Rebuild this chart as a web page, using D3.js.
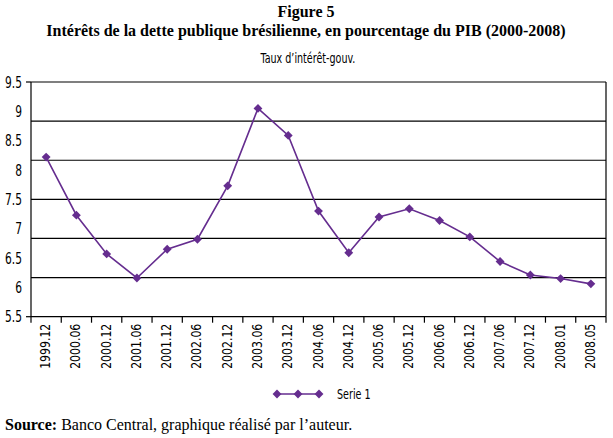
<!DOCTYPE html>
<html><head><meta charset="utf-8">
<script src="https://cdn.jsdelivr.net/npm/d3@7"></script>
<style>
body{margin:0;background:#fff;}
svg{display:block;}
.cond{font-family:"DejaVu Sans Condensed","Liberation Sans Narrow","DejaVu Sans",sans-serif;font-stretch:condensed;}
.serif{font-family:"Liberation Serif","Times New Roman",serif;}
</style></head>
<body>
<script>
const categories = ["1999.12","2000.06","2000.12","2001.06","2001.12","2002.06","2002.12","2003.06","2003.12","2004.06","2004.12","2005.06","2005.12","2006.06","2006.12","2007.06","2007.12","2008.01","2008.05"];
const serie1 = [8.22,7.23,6.57,6.16,6.65,6.82,7.73,9.05,8.59,7.30,6.59,7.20,7.34,7.14,6.86,6.44,6.21,6.15,6.06];
const yTickLabels = [5.5,6,6.5,7,7.5,8,8.5,9,9.5];
const seriesName = "Serie 1";
const figureTitle = "Figure 5";
const mainTitle = "Intérêts de la dette publique brésilienne, en pourcentage du PIB (2000-2008)";
const subTitle = "Taux d’intérêt-gouv.";

const W = 613, H = 438;
const m = {left:31, right:606, top:82, bottom:316.7};
const purple = "#652d8f";

const svg = d3.select("body").append("svg").attr("width",W).attr("height",H);

const x = d3.scaleBand().domain(categories).range([m.left,m.right]);
const y = d3.scaleLinear().domain([5.5,9.5]).range([m.bottom,m.top]);

// gridlines: six equal divisions of the value range
const gridVals = d3.range(7).map(i => 5.5 + i*(4/6));
svg.append("g").selectAll("line").data(gridVals).join("line")
  .attr("x1",m.left).attr("x2",m.right)
  .attr("y1",d=>y(d)).attr("y2",d=>y(d))
  .attr("stroke","#000").attr("stroke-width",1.2);

svg.append("line").attr("x1",m.left).attr("x2",m.left).attr("y1",m.top).attr("y2",m.bottom).attr("stroke","#000").attr("stroke-width",1.2);
svg.append("line").attr("x1",m.right).attr("x2",m.right).attr("y1",m.top).attr("y2",m.bottom).attr("stroke","#000").attr("stroke-width",1.2);
svg.append("g").selectAll("line").data([5.5,9.5]).join("line")
  .attr("x1",m.left-5).attr("x2",m.left).attr("y1",d=>y(d)).attr("y2",d=>y(d))
  .attr("stroke","#000").attr("stroke-width",1.2);

// y labels (narrowed)
svg.append("g").attr("class","cond").selectAll("text").data(yTickLabels).join("text")
  .attr("transform",d=>`translate(22,${y(d)}) scale(0.74,1)`).attr("dy","0.36em")
  .attr("text-anchor","end").attr("font-size",16).attr("fill","#000")
  .text(d=>String(d));

// x ticks at category boundaries
const bounds = categories.map(c=>x(c)).concat([m.right]);
svg.append("g").selectAll("line").data(bounds).join("line")
  .attr("x1",d=>d).attr("x2",d=>d).attr("y1",m.bottom).attr("y2",m.bottom+6)
  .attr("stroke","#000").attr("stroke-width",1.2);

// x labels
svg.append("g").attr("class","cond").selectAll("text").data(categories).join("text")
  .attr("transform",d=>`translate(${x(d)+x.bandwidth()/2+4},${m.bottom+7}) rotate(-90) scale(0.9,1)`)
  .attr("text-anchor","end").attr("font-size",13.5).attr("fill","#000")
  .text(d=>d);

// line
const line = d3.line().x((d,i)=>x(categories[i])+x.bandwidth()/2).y(d=>y(d));
svg.append("path").datum(serie1).attr("d",line).attr("fill","none")
  .attr("stroke",purple).attr("stroke-width",1.6);

const sym = d3.symbol().type(d3.symbolDiamond2).size(50);
svg.append("g").selectAll("path").data(serie1).join("path")
  .attr("transform",(d,i)=>`translate(${x(categories[i])+x.bandwidth()/2},${y(d)})`)
  .attr("d",sym).attr("fill",purple);

// titles
svg.append("text").attr("class","serif").attr("x",306).attr("y",17).attr("text-anchor","middle")
  .attr("font-size",16).attr("font-weight","bold").text(figureTitle);
svg.append("text").attr("class","serif").attr("x",306).attr("y",36).attr("text-anchor","middle")
  .attr("font-size",16).attr("font-weight","bold").text(mainTitle);
svg.append("text").attr("class","cond").attr("transform","translate(308,63) scale(0.76,1)").attr("text-anchor","middle")
  .attr("font-size",14).text(subTitle);

// legend
const lg = svg.append("g");
const lx = [277,298,319];
lg.append("line").attr("x1",lx[0]).attr("x2",lx[2]).attr("y1",394).attr("y2",394).attr("stroke",purple).attr("stroke-width",1.6);
lg.selectAll("path").data(lx).join("path").attr("transform",d=>`translate(${d},394)`).attr("d",sym).attr("fill",purple);
lg.append("text").attr("class","cond").attr("transform","translate(337,399) scale(0.76,1)").attr("font-size",14).text(seriesName);

// source
const src = svg.append("text").attr("class","serif").attr("x",5).attr("y",430).attr("font-size",16);
src.append("tspan").attr("font-weight","bold").text("Source:");
src.append("tspan").text(" Banco Central, graphique réalisé par l’auteur.");
</script>
</body></html>
